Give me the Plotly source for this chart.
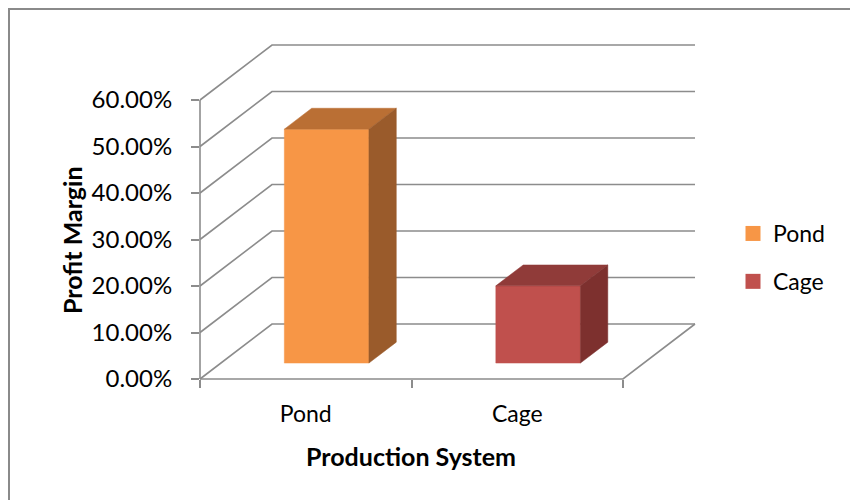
import plotly.graph_objects as go

# ---------------- data ----------------
categories = ["Pond", "Cage"]
profit_margin = [0.503, 0.166]
y_tick_values = [0.0, 0.1, 0.2, 0.3, 0.4, 0.5, 0.6]
y_tick_labels = ["0.00%", "10.00%", "20.00%", "30.00%", "40.00%", "50.00%", "60.00%"]
x_title = "Production System"
y_title = "Profit Margin"

# ---------------- style ----------------
FRONT = ["#F79646", "#C0504D"]
TOP = ["#BA6F34", "#903B39"]
SIDE = ["#9A5B2B", "#7D302E"]
GRID = "#8C8C8C"
FONT = "Lato"
W, H = 850, 500

# pixel geometry of the oblique projection
PX0, PY0 = 200, 379          # front-left-bottom corner
PX_PER_CAT = 211.5
PX_PER_VAL = 465.0
DEPTH_PX = (72, 55)
DX = DEPTH_PX[0] / PX_PER_CAT
DY = DEPTH_PX[1] / PX_PER_VAL
NCAT = len(categories)
VMAX = y_tick_values[-1]
BAR_W = 0.4
D0, D1 = 0.29, 0.67

XMAX = NCAT + DX
YMAX = VMAX + DY
right_px = PX0 + XMAX * PX_PER_CAT
top_px = PY0 - YMAX * PX_PER_VAL


def proj(x, v, d):
    return x + d * DX, v + d * DY


def poly(points):
    xs, ys = [], []
    for p in points:
        px, py = proj(*p)
        xs.append(px)
        ys.append(py)
    xs.append(xs[0])
    ys.append(ys[0])
    return xs, ys


fig = go.Figure()

# invisible trace so the tick axes (x / y) get drawn
fig.add_trace(go.Scatter(x=[0, XMAX], y=[0, YMAX], mode="markers", marker=dict(opacity=0),
                         xaxis="x", yaxis="y", showlegend=False, hoverinfo="skip"))

# grid / walls
gx, gy = [], []
for v in y_tick_values:
    for p in [(0, v, 0), (0, v, 1), (NCAT, v, 1)]:
        a, b = proj(*p)
        gx.append(a)
        gy.append(b)
    gx.append(None)
    gy.append(None)
for p in [(0, 0, 0), (NCAT, 0, 0), (NCAT, 0, 1)]:
    a, b = proj(*p)
    gx.append(a)
    gy.append(b)
gx.append(None)
gy.append(None)
for p in [(0, 0, 0), (0, VMAX, 0)]:
    a, b = proj(*p)
    gx.append(a)
    gy.append(b)
fig.add_trace(go.Scatter(x=gx, y=gy, mode="lines", line=dict(color=GRID, width=1.6),
                         xaxis="x2", yaxis="y2", showlegend=False, hoverinfo="skip"))

# bars
for i, (cat, val) in enumerate(zip(categories, profit_margin)):
    x0 = i + (1 - BAR_W) / 2
    x1 = x0 + BAR_W
    faces = [
        ([(x0, 0, D0), (x1, 0, D0), (x1, val, D0), (x0, val, D0)], FRONT[i]),
        ([(x0, val, D0), (x1, val, D0), (x1, val, D1), (x0, val, D1)], TOP[i]),
        ([(x1, 0, D0), (x1, 0, D1), (x1, val, D1), (x1, val, D0)], SIDE[i]),
    ]
    for pts, col in faces:
        xs, ys = poly(pts)
        fig.add_trace(go.Scatter(x=xs, y=ys, mode="lines", fill="toself", fillcolor=col,
                                 line=dict(color=col, width=0.5), xaxis="x2", yaxis="y2",
                                 showlegend=False, hoverinfo="skip"))

# legend entries
for i, cat in enumerate(categories):
    fig.add_trace(go.Scatter(x=[None], y=[None], mode="markers", name=cat,
                             marker=dict(symbol="square", size=15, color=FRONT[i], line=dict(width=0)),
                             xaxis="x2", yaxis="y2", legendgroup=cat))

PAD = 12
fig.update_layout(
    width=W, height=H,
    margin=dict(l=0, r=0, t=0, b=0, autoexpand=False),
    paper_bgcolor="white", plot_bgcolor="rgba(0,0,0,0)",
    font=dict(family=FONT, size=23, color="#000000"),
    hovermode=False,
    xaxis=dict(domain=[PX0 / W, right_px / W], range=[0, XMAX], anchor="y",
               showgrid=False, zeroline=False, showline=False, automargin=False,
               tickvals=[i + 0.5 for i in range(NCAT)], ticktext=categories, ticks="",
               ticklabelstandoff=19, tickfont=dict(size=23),
               minor=dict(tickvals=list(range(NCAT + 1)), ticks="outside", ticklen=8,
                          tickcolor=GRID, tickwidth=1.6, showgrid=False)),
    yaxis=dict(domain=[1 - PY0 / H, 1 - top_px / H], range=[0, YMAX], anchor="x",
               showgrid=False, zeroline=False, showline=False, automargin=False,
               tickvals=y_tick_values, ticktext=y_tick_labels, ticks="outside",
               ticklen=8, tickcolor=GRID, tickwidth=1.6, ticklabelstandoff=14,
               tickfont=dict(size=24)),
    xaxis2=dict(domain=[(PX0 - PAD) / W, (right_px + PAD) / W],
                range=[-PAD / PX_PER_CAT, XMAX + PAD / PX_PER_CAT], anchor="y2",
                visible=False),
    yaxis2=dict(domain=[1 - (PY0 + PAD) / H, 1 - (top_px - PAD) / H],
                range=[-PAD / PX_PER_VAL, YMAX + PAD / PX_PER_VAL], anchor="x2",
                visible=False),
    legend=dict(x=733 / W, y=1 - 212 / H, xanchor="left", yanchor="top",
                font=dict(size=23), tracegroupgap=15, bgcolor="rgba(0,0,0,0)",
                itemclick=False, itemdoubleclick=False),
    shapes=[dict(type="rect", xref="paper", yref="paper", x0=9 / W, x1=1.05,
                 y0=-0.05, y1=1 - 9 / H, line=dict(color="#8A8A8A", width=2))],
    annotations=[
        dict(text=f"<b>{y_title}</b>", xref="paper", yref="paper", x=72 / W, y=1 - 240 / H,
             showarrow=False, textangle=-90, font=dict(size=25), xanchor="center", yanchor="middle"),
        dict(text=f"<b>{x_title}</b>", xref="paper", yref="paper", x=411 / W, y=1 - 456 / H,
             showarrow=False, font=dict(size=25), xanchor="center", yanchor="middle"),
    ],
)

fig.write_html("out.html")
